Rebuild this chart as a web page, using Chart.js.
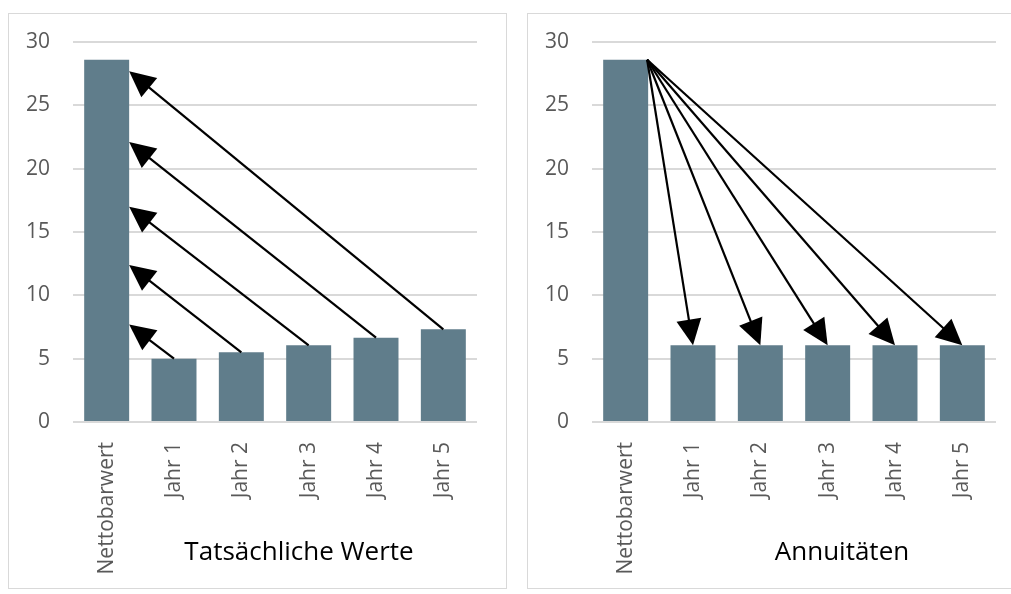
<!DOCTYPE html>
<html>
<head>
<meta charset="utf-8">
<title>Tatsächliche Werte / Annuitäten</title>
<script src="https://cdn.jsdelivr.net/npm/chart.js@4/dist/chart.umd.min.js"></script>
<style>
  body { margin: 0; background: #fff; }
  .panel { position: absolute; top: 13px; height: 574px; border: 1px solid #d9d9d9; }
  #left-panel { left: 8px; width: 497px; }
  #right-panel { left: 527px; width: 484px; border-right: none; }
</style>
</head>
<body>
<div class="panel" id="left-panel"><canvas id="actual-chart"></canvas></div>
<div class="panel" id="right-panel"><canvas id="annuity-chart"></canvas></div>
<script>
// Categories and values
const categories = ["Nettobarwert", "Jahr 1", "Jahr 2", "Jahr 3", "Jahr 4", "Jahr 5"];
const actualValues = [28.6, 5, 5.5, 6.05, 6.66, 7.32];
const annuityValues = [28.6, 6.05, 6.05, 6.05, 6.05, 6.05];
const yTicks = [0, 5, 10, 15, 20, 25, 30];

// Where the arrows of the left chart hit the Nettobarwert bar (value units)
const actualArrowTips = [7.7, 12.4, 17.0, 22.1, 27.7];

const barColor = "#607d8b";
const gridColor = "#d9d9d9";
const tickColor = "#595959";
const fontFamily = "'Open Sans', sans-serif";

// Draw a line with a filled triangle head at (x2, y2)
function drawArrow(ctx, x1, y1, x2, y2) {
  const angle = Math.atan2(y2 - y1, x2 - x1);
  const headLength = 26;
  const headHalf = 12.5;
  const cos = Math.cos(angle);
  const sin = Math.sin(angle);
  const bx = x2 - headLength * cos;
  const by = y2 - headLength * sin;

  ctx.beginPath();
  ctx.moveTo(x1, y1);
  ctx.lineTo(bx + cos * 2, by + sin * 2);
  ctx.stroke();

  ctx.beginPath();
  ctx.moveTo(x2, y2);
  ctx.lineTo(bx + headHalf * sin, by - headHalf * cos);
  ctx.lineTo(bx - headHalf * sin, by + headHalf * cos);
  ctx.closePath();
  ctx.fill();
}

// Arrows between the Nettobarwert bar and the yearly bars
const arrowPlugin = {
  id: "arrows",
  afterDatasetsDraw(chart, args, opts) {
    const ctx = chart.ctx;
    const yScale = chart.scales.y;
    const bars = chart.getDatasetMeta(0).data;
    const values = chart.data.datasets[0].data;
    const npvBar = bars[0];
    const npvRight = npvBar.x + npvBar.width / 2;

    ctx.save();
    ctx.strokeStyle = "#000";
    ctx.fillStyle = "#000";
    ctx.lineWidth = 2.2;
    for (let i = 1; i < bars.length; i++) {
      const barTop = yScale.getPixelForValue(values[i]);
      if (opts.mode === "toNpv") {
        const tipY = yScale.getPixelForValue(opts.tips[i - 1]);
        drawArrow(ctx, bars[i].x, barTop, npvRight, tipY);
      } else {
        const startY = yScale.getPixelForValue(values[0]);
        drawArrow(ctx, npvRight - 1, startY, bars[i].x, barTop);
      }
    }
    ctx.restore();
  },
};

// Chart caption below the rotated labels
const captionPlugin = {
  id: "caption",
  afterDraw(chart, args, opts) {
    const ctx = chart.ctx;
    const area = chart.chartArea;
    ctx.save();
    ctx.font = "26px " + fontFamily;
    ctx.fillStyle = "#000";
    ctx.textAlign = "center";
    ctx.textBaseline = "alphabetic";
    ctx.fillText(opts.text, area.left + opts.offsetX, area.bottom + 138);
    ctx.restore();
  },
};

function buildChart(canvasId, values, caption, captionOffset, rightPadding, arrowOpts) {
  const ctx = document.getElementById(canvasId).getContext("2d");
  return new Chart(ctx, {
    type: "bar",
    data: {
      labels: categories,
      datasets: [
        {
          data: values,
          backgroundColor: barColor,
          barPercentage: 0.668,
          categoryPercentage: 1,
        },
      ],
    },
    options: {
      responsive: true,
      maintainAspectRatio: false,
      animation: false,
      layout: { padding: { top: 28, right: rightPadding, left: 0, bottom: 0 } },
      plugins: {
        legend: { display: false },
        tooltip: { enabled: false },
        arrows: arrowOpts,
        caption: { text: caption, offsetX: captionOffset },
      },
      scales: {
        x: {
          grid: { display: false },
          border: { display: false },
          ticks: {
            color: tickColor,
            font: { family: fontFamily, size: 21 },
            minRotation: 90,
            maxRotation: 90,
            padding: 12,
          },
          afterFit(scale) {
            scale.height = 166;
          },
        },
        y: {
          min: 0,
          max: 30,
          afterBuildTicks(scale) {
            scale.ticks = yTicks.map((v) => ({ value: v }));
          },
          grid: { color: gridColor, lineWidth: 2, drawTicks: false },
          border: { display: false },
          ticks: {
            color: tickColor,
            font: { family: fontFamily, size: 21 },
            padding: 23,
          },
          afterFit(scale) {
            // fixed label column, no extra room above the top tick
            scale.width = 64;
            scale.paddingTop = 0;
            scale.paddingBottom = 0;
          },
        },
      },
    },
    plugins: [arrowPlugin, captionPlugin],
  });
}

buildChart("actual-chart", actualValues, "Tatsächliche Werte", 226, 29, {
  mode: "toNpv",
  tips: actualArrowTips,
});
buildChart("annuity-chart", annuityValues, "Annuitäten", 250, 16, {
  mode: "fromNpv",
});
</script>
</body>
</html>
